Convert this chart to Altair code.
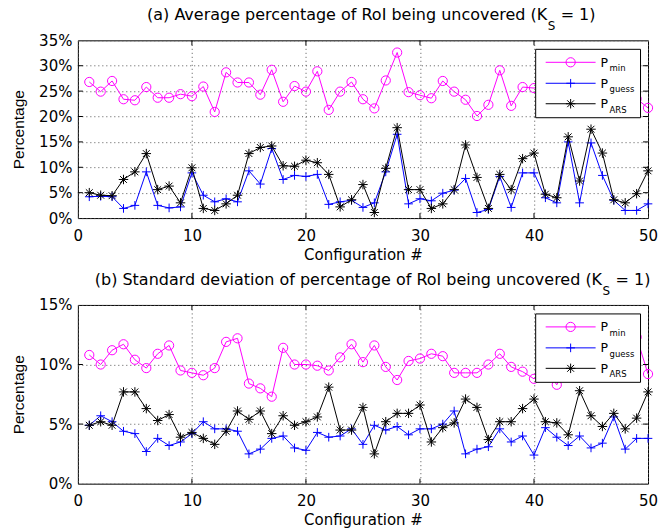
import altair as alt
import pandas as pd

# ---------------- data ----------------
configs = list(range(1, 51))
series_keys = ["Pmin", "Pguess", "PARS"]
series_subs = ["min", "guess", "ARS"]
series_colors = ["#FF00FF", "#0000FF", "#000000"]

avg_pmin = [26.8, 24.9, 27.0, 23.4, 23.2, 25.8, 23.7, 23.7, 24.4, 24.0,
            25.9, 20.9, 28.7, 26.7, 26.7, 24.3, 29.2, 22.9, 26.0, 24.9,
            28.9, 21.3, 24.9, 26.8, 23.4, 21.6, 27.1, 32.6, 24.8, 24.2,
            23.6, 27.0, 24.9, 23.3, 20.1, 22.3, 29.1, 22.1, 25.8, 25.6,
            26.5, 24.0, 27.5, 23.0, 25.5, 22.5, 26.0, 24.5, 23.5, 21.7]
avg_pguess = [4.2, 4.3, 4.2, 1.9, 2.5, 9.1, 2.5, 2.0, 2.2, 8.9,
              4.5, 3.2, 3.8, 3.2, 9.3, 6.7, 13.7, 7.6, 8.4, 8.2,
              8.6, 2.7, 3.2, 3.5, 2.1, 3.0, 9.1, 16.5, 2.8, 3.8,
              3.4, 4.9, 5.5, 7.8, 1.1, 1.7, 8.2, 2.1, 8.9, 8.9,
              4.0, 3.0, 15.0, 3.0, 14.8, 8.4, 3.5, 1.5, 1.5, 2.8]
avg_pars = [5.0, 4.5, 4.4, 7.6, 9.1, 12.7, 5.6, 6.3, 3.0, 9.9,
            1.9, 1.5, 2.8, 4.5, 12.7, 13.9, 14.2, 10.3, 10.2, 11.4,
            10.9, 8.6, 2.2, 3.6, 6.6, 1.1, 9.8, 17.8, 5.6, 5.6,
            1.9, 2.8, 5.6, 14.4, 8.0, 1.9, 8.6, 5.6, 11.7, 12.8,
            4.7, 4.0, 16.0, 7.3, 17.5, 12.8, 3.6, 3.0, 4.8, 9.3]

std_pmin = [10.8, 10.0, 11.2, 11.7, 10.4, 9.7, 10.9, 11.6, 9.5, 9.3,
            9.1, 9.7, 11.9, 12.2, 8.4, 8.0, 7.3, 11.4, 10.0, 10.0,
            9.9, 9.5, 10.6, 11.7, 10.2, 11.6, 9.8, 8.7, 10.3, 10.5,
            10.9, 10.7, 9.3, 9.3, 9.3, 10.0, 10.9, 9.8, 9.4, 8.8,
            9.6, 8.3, 10.4, 11.2, 9.8, 10.7, 9.9, 11.5, 12.3, 9.2]
std_pguess = [4.9, 5.7, 5.2, 4.4, 4.2, 2.7, 3.8, 3.2, 3.5, 4.2,
              5.2, 4.6, 4.6, 4.4, 2.5, 2.9, 3.8, 4.0, 3.0, 2.8,
              4.3, 3.9, 4.0, 4.6, 3.3, 4.9, 4.5, 4.8, 4.1, 4.6,
              4.6, 5.0, 6.1, 2.5, 2.9, 3.1, 4.6, 3.5, 4.0, 2.4,
              4.7, 3.9, 3.2, 4.0, 3.0, 3.4, 5.6, 2.9, 3.8, 3.8]
std_pars = [4.9, 5.2, 4.9, 7.7, 7.7, 6.3, 5.3, 5.8, 3.9, 4.3,
            3.8, 3.3, 4.4, 6.1, 5.4, 6.1, 4.2, 5.7, 4.9, 5.2,
            5.6, 8.1, 4.5, 4.5, 6.4, 2.5, 5.2, 5.9, 5.9, 6.6,
            3.5, 4.7, 5.1, 7.1, 6.4, 3.7, 5.2, 5.2, 6.3, 7.1,
            5.2, 5.1, 4.1, 7.8, 5.7, 4.8, 5.9, 4.6, 5.5, 7.7]

x_tick_values = [0, 10, 20, 30, 40, 50]
y_ticks_a = [0, 5, 10, 15, 20, 25, 30, 35]
y_ticks_b = [0, 5, 10, 15]

title_a = "(a) Average percentage of RoI being uncovered (K"
title_b = "(b) Standard deviation of percentage of RoI being uncovered (K"

# ---------------- style ----------------
W = 571
PLUS = "M-1,0L1,0M0,-1L0,1"
STAR = "M-1,0L1,0M0,-1L0,1M-0.72,-0.72L0.72,0.72M-0.72,0.72L0.72,-0.72"
shapes = ["circle", PLUS, STAR]
sizes = [85, 75, 90]
HFONT = "DejaVu Sans"

def panel(series_vals, yticks, ymax, H, main_title, k_end, eq_x):
    x_axis = alt.Axis(values=x_tick_values, title="Configuration #", grid=True,
                      gridDash=[1, 3], gridColor="#555", gridWidth=1, tickSize=0,
                      labelPadding=10, titlePadding=4, labelFlush=False,
                      labelOverlap=False, domain=False, labelFont=HFONT,
                      labelFontSize=15, titleFont=HFONT, titleFontSize=15,
                      titleFontWeight="normal", labelColor="#000", titleColor="#000")
    y_axis = alt.Axis(values=yticks, labelExpr="datum.value + '%'", title="Percentage",
                      grid=True, gridDash=[1, 3], gridColor="#555", gridWidth=1,
                      tickSize=0, labelPadding=6, titlePadding=12, domain=False,
                      labelFont=HFONT, labelFontSize=15, titleFont="Liberation Sans",
                      titleFontSize=15.5, titleFontWeight="normal",
                      labelColor="#000", titleColor="#000", labelFlush=False,
                      labelOverlap=False)
    xs = alt.Scale(domain=[0, 50], nice=False, zero=False)
    ys = alt.Scale(domain=[0, ymax], nice=False)
    X = alt.X("config:Q", scale=xs, axis=x_axis)
    Y = alt.Y("value:Q", scale=ys, axis=y_axis)

    layers = []
    for vals, col, shp, sz in zip(series_vals, series_colors, shapes, sizes):
        df = pd.DataFrame({"config": configs, "value": vals})
        base = alt.Chart(df)
        layers.append(base.mark_line(color=col, strokeWidth=1).encode(x=X, y=Y))
        layers.append(base.mark_point(shape=shp, filled=False, stroke=col, size=sz,
                                      strokeWidth=1, opacity=1).encode(x=X, y=Y))

    # inward ticks (MATLAB style)
    xt = pd.DataFrame({"config": x_tick_values[1:-1]})
    yt = pd.DataFrame({"value": yticks[1:-1]})
    layers.append(alt.Chart(xt).mark_rule(color="black", strokeWidth=1).encode(
        x=X, y=alt.value(H), y2=alt.value(H - 5)))
    layers.append(alt.Chart(xt).mark_rule(color="black", strokeWidth=1).encode(
        x=X, y=alt.value(0), y2=alt.value(5)))
    layers.append(alt.Chart(yt).mark_rule(color="black", strokeWidth=1).encode(
        y=Y, x=alt.value(0), x2=alt.value(5)))
    layers.append(alt.Chart(yt).mark_rule(color="black", strokeWidth=1).encode(
        y=Y, x=alt.value(W - 5), x2=alt.value(W)))

    one = pd.DataFrame({"a": [0]})
    # legend box
    layers.append(alt.Chart(one).mark_rect(fill="white", stroke="black", strokeWidth=1).encode(
        x=alt.value(458.5), x2=alt.value(563.5), y=alt.value(9), y2=alt.value(77.5)))
    rows = [22, 43, 63.5]
    for ry, col, shp, sz, sub in zip(rows, series_colors, shapes, sizes, series_subs):
        layers.append(alt.Chart(one).mark_rule(color=col, strokeWidth=1).encode(
            x=alt.value(468.5), x2=alt.value(518.5), y=alt.value(ry)))
        layers.append(alt.Chart(one).mark_point(shape=shp, filled=False, stroke=col, size=sz,
                                                strokeWidth=1, opacity=1).encode(
            x=alt.value(493.5), y=alt.value(ry)))
        layers.append(alt.Chart(one).mark_text(text="P", font=HFONT, fontSize=12.5, align="left",
                                               baseline="alphabetic", color="black").encode(
            x=alt.value(523.5), y=alt.value(ry + 4.5)))
        layers.append(alt.Chart(one).mark_text(text=sub, font=HFONT, fontSize=8.5, align="left",
                                               baseline="alphabetic", color="black").encode(
            x=alt.value(532.5), y=alt.value(ry + 9)))

    # title with subscript
    layers.append(alt.Chart(one).mark_text(text=main_title, font=HFONT, fontSize=16, align="right",
                                           baseline="alphabetic", color="black").encode(
        x=alt.value(k_end), y=alt.value(-20)))
    layers.append(alt.Chart(one).mark_text(text="S", font=HFONT, fontSize=12, align="left",
                                           baseline="alphabetic", color="black").encode(
        x=alt.value(k_end + 0.5), y=alt.value(-10)))
    layers.append(alt.Chart(one).mark_text(text="= 1)", font=HFONT, fontSize=16, align="left",
                                           baseline="alphabetic", color="black").encode(
        x=alt.value(eq_x), y=alt.value(-20)))

    return alt.layer(*layers).properties(width=W, height=H)

top = panel([avg_pmin, avg_pguess, avg_pars], y_ticks_a, 35, 178, title_a, 470, 483.5)
bottom = panel([std_pmin, std_pguess, std_pars], y_ticks_b, 15, 179, title_b, 525, 538.5)

chart = alt.vconcat(top, bottom, spacing=8).properties(
    padding={"left": 11, "top": 6, "right": 0, "bottom": 0},
    background="white",
).configure_view(stroke="black", strokeWidth=1)

chart.save("out.html", embed_options={"renderer": "svg", "actions": False})
